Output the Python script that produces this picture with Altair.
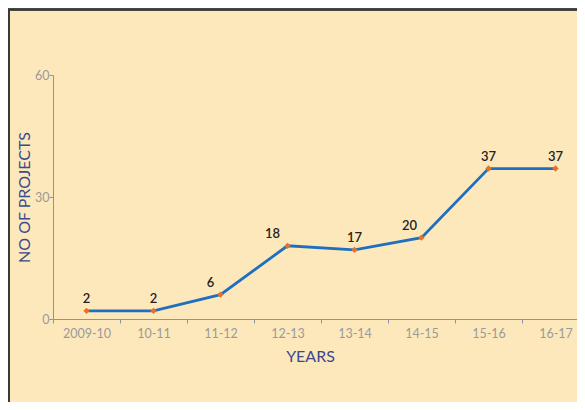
import altair as alt
import pandas as pd

years = ["2009-10", "10-11", "11-12", "12-13", "13-14", "14-15", "15-16", "16-17"]
projects = [2, 2, 6, 18, 17, 20, 37, 37]
label_dx = [0, 0, -10, -15, 0, -12, 0, 0]
y_ticks = [0, 30, 60]

FONT = "Lato"
W, H = 536, 244
PL, PT = 45, 67
PR = 569 - PL - W  # negative: plot runs off the right edge as in the reference
BAND = W / len(years)

df = pd.DataFrame({"year": years, "projects": projects, "dx": label_dx})
df["off"] = df["dx"] + BAND / 2

x = alt.X(
    "year:N", sort=years,
    scale=alt.Scale(type="band", paddingInner=0, paddingOuter=0),
    axis=alt.Axis(
        title="YEARS", labelAngle=0, tickBand="extent",
        labelColor="#9a9a9a", labelFont=FONT, labelFontSize=12.5, labelPadding=4,
        tickColor="#8a93a8", domainColor="#8a93a8", tickSize=4,
        titleColor="#3b4a8c", titleFont=FONT, titleFontSize=16, titleFontWeight="normal",
        titleX=257, titleY=29,
    ),
)
y = alt.Y(
    "projects:Q",
    scale=alt.Scale(domain=[0, 60], nice=False),
    axis=alt.Axis(
        title="NO OF PROJECTS", values=y_ticks, grid=False,
        labelColor="#9a9a9a", labelFont=FONT, labelFontSize=12.5, labelPadding=0,
        tickColor="#8a93a8", domainColor="#8a93a8", tickSize=4,
        titleColor="#3b4a8c", titleFont=FONT, titleFontSize=16, titleFontWeight="normal",
        titlePadding=2,
    ),
)

base = alt.Chart(df)
line = base.mark_line(color="#1f6fbf", strokeWidth=2.8).encode(x=x, y=y)
pts = base.mark_point(shape="diamond", filled=True, color="#e8712a", size=40, opacity=1).encode(x=x, y=y)
labels = base.mark_text(
    font=FONT, fontSize=13, color="#222222", dy=-5, baseline="bottom", fontWeight=600
).encode(x=x, y=y, text="projects:Q", xOffset=alt.XOffset("off:Q", scale=None))

frame_top = alt.Chart(df).mark_rule(color="#3a3a3a", strokeWidth=1.5).encode(
    x=alt.value(-PL), x2=alt.value(W + 10), y=alt.value(-PT + 1.5)
)
frame_left = alt.Chart(df).mark_rule(color="#3a3a3a", strokeWidth=2).encode(
    x=alt.value(-PL + 1), y=alt.value(-PT + 1), y2=alt.value(H + 100)
)

chart = alt.layer(frame_top, frame_left, line, pts, labels).properties(
    width=W, height=H,
    autosize=alt.AutoSizeParams(type="none"),
    padding={"left": PL, "top": PT, "right": PR, "bottom": 83},
    background="#fde8bc",
).configure_view(stroke=None)

chart.save("out.html", embed_options={"renderer": "svg", "actions": False})
